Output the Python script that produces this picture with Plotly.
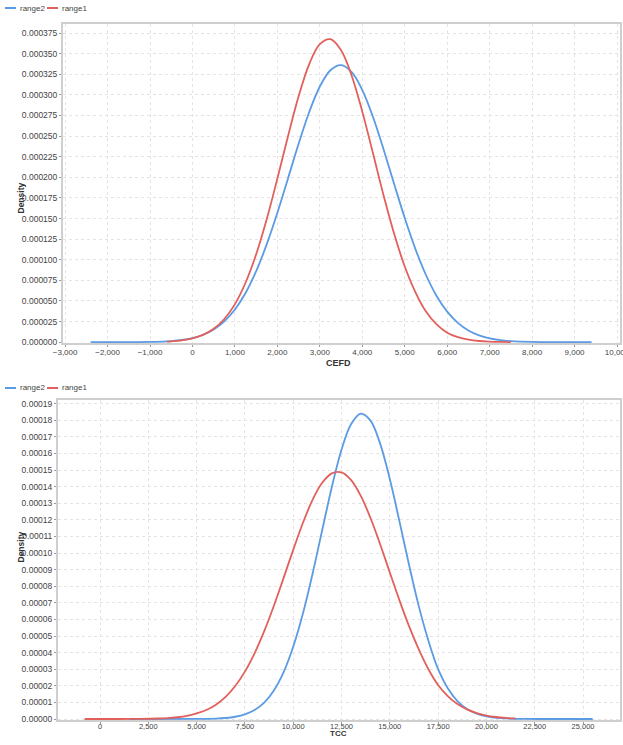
import plotly.graph_objects as go

# ---------------- data ----------------
cefd_r1_x = [-600, -500, -250, 0, 250, 500, 750, 1000, 1250, 1500, 1750, 2000, 2250, 2500, 2750,
             3000, 3250, 3500, 3750, 4000, 4250, 4500, 4750, 5000, 5250, 5500, 5750, 6000, 6250,
             6500, 6750, 7000, 7250, 7500]
cefd_r1_y = [0.7e-6, 1.04e-6, 2.24e-6, 4.57e-6, 8.83e-6, 1.617e-5, 2.81e-5, 4.62e-5, 7.21e-5,
             1.066e-4, 1.494e-4, 1.985e-4, 2.499e-4, 2.983e-4, 3.374e-4, 3.617e-4, 3.676e-4,
             3.541e-4, 3.233e-4, 2.797e-4, 2.294e-4, 1.783e-4, 1.314e-4, 9.18e-5, 6.08e-5,
             3.71e-5, 2.15e-5, 1.15e-5, 6.0e-6, 3.0e-6, 1.4e-6, 6.5e-7, 3.0e-7, 1.3e-7]

cefd_r2_x = [-2400, -2000, -1500, -1000, -500, -250, 0, 250, 500, 750, 1000, 1250, 1500, 1750,
             2000, 2250, 2500, 2750, 3000, 3250, 3500, 3750, 4000, 4250, 4500, 4750, 5000,
             5250, 5500, 5750, 6000, 6250, 6500, 6750, 7000, 7250, 7500, 8000, 8500, 9000, 9400]
cefd_r2_y = [0.0, 0.0, 6e-8, 3.2e-7, 1.37e-6, 2.68e-6, 5.0e-6, 8.97e-6, 1.54e-5, 2.53e-5,
             3.97e-5, 5.97e-5, 8.61e-5, 1.189e-4, 1.570e-4, 1.987e-4, 2.407e-4, 2.793e-4,
             3.102e-4, 3.299e-4, 3.360e-4, 3.276e-4, 3.059e-4, 2.735e-4, 2.341e-4, 1.919e-4,
             1.506e-4, 1.132e-4, 8.15e-5, 5.61e-5, 3.71e-5, 2.34e-5, 1.42e-5, 8.2e-6, 4.55e-6,
             2.42e-6, 1.23e-6, 2.8e-7, 5e-8, 0.0, 0.0]

tcc_r1_x = [-800, 1000, 2000, 3000, 3500, 4000, 4500, 5000, 5500, 6000, 6500, 7000, 7500, 8000,
            8500, 9000, 9500, 10000, 10500, 11000, 11500, 12000, 12500, 13000, 13500, 14000,
            14500, 15000, 15500, 16000, 16500, 17000, 17500, 18000, 18500, 19000, 19500, 20000,
            20500, 21000, 21500]
tcc_r1_y = [0.0, 1.6e-8, 7.4e-8, 3.0e-7, 5.8e-7, 1.06e-6, 1.9e-6, 3.4e-6, 5.4e-6, 8.64e-6,
            1.334e-5, 1.986e-5, 2.853e-5, 3.956e-5, 5.29e-5, 6.82e-5, 8.49e-5, 1.019e-4,
            1.181e-4, 1.320e-4, 1.423e-4, 1.480e-4, 1.486e-4, 1.439e-4, 1.344e-4, 1.211e-4,
            1.053e-4, 8.83e-5, 7.15e-5, 5.58e-5, 4.20e-5, 3.0e-5, 2.05e-5, 1.38e-5, 9.0e-6,
            5.8e-6, 3.6e-6, 2.1e-6, 1.2e-6, 6.5e-7, 3.3e-7]

tcc_r2_x = [1500, 5000, 6000, 6500, 7000, 7500, 8000, 8500, 9000, 9500, 10000, 10500, 11000,
            11500, 12000, 12500, 13000, 13500, 14000, 14500, 15000, 15500, 16000, 16500, 17000,
            17500, 18000, 18500, 19000, 19500, 20000, 20500, 21000, 22000, 23000, 24000, 25500]
tcc_r2_y = [0.0, 4.3e-8, 2.7e-7, 6.2e-7, 1.36e-6, 2.79e-6, 5.4e-6, 9.9e-6, 1.72e-5, 2.81e-5,
            4.35e-5, 6.34e-5, 8.74e-5, 1.137e-4, 1.398e-4, 1.622e-4, 1.777e-4, 1.840e-4,
            1.798e-4, 1.659e-4, 1.446e-4, 1.191e-4, 9.26e-5, 6.80e-5, 4.71e-5, 3.0e-5, 1.85e-5,
            1.08e-5, 6.0e-6, 3.2e-6, 1.57e-6, 7.3e-7, 3.2e-7, 5e-8, 0.0, 0.0, 0.0]

series_names = ["range2", "range1"]
x_titles = ["CEFD", "TCC"]
y_title = "Density"

BLUE = "#5b9be4"
RED = "#e2605b"
W, H = 623, 745
FONT = "Liberation Sans, Arial, sans-serif"

fig = go.Figure()
fig.add_trace(go.Scatter(x=cefd_r2_x, y=cefd_r2_y, mode="lines", name=series_names[0],
                         line=dict(color=BLUE, width=1.8, shape="spline"), xaxis="x", yaxis="y",
                         showlegend=False))
fig.add_trace(go.Scatter(x=cefd_r1_x, y=cefd_r1_y, mode="lines", name=series_names[1],
                         line=dict(color=RED, width=1.8, shape="spline"), xaxis="x", yaxis="y",
                         showlegend=False))
fig.add_trace(go.Scatter(x=tcc_r2_x, y=tcc_r2_y, mode="lines", name=series_names[0],
                         line=dict(color=BLUE, width=1.8, shape="spline"), xaxis="x2", yaxis="y2",
                         showlegend=False))
fig.add_trace(go.Scatter(x=tcc_r1_x, y=tcc_r1_y, mode="lines", name=series_names[1],
                         line=dict(color=RED, width=1.8, shape="spline"), xaxis="x2", yaxis="y2",
                         showlegend=False))

def px_x(p):
    return p / W

def px_y(p):
    return 1 - p / H

axis_common = dict(showgrid=True, gridcolor="#e4e4e4", griddash="dot", gridwidth=1,
                   showline=True, linecolor="#cfcfcf", linewidth=2, mirror=True,
                   ticks="outside", ticklen=2, tickcolor="#999999", zeroline=False,
                   tickfont=dict(family=FONT, size=8.5, color="#444444"), automargin=False)
xtickfont = dict(family=FONT, size=8, color="#444444")
x2tickfont = dict(family=FONT, size=7.5, color="#444444")

fig.update_layout(
    width=W, height=H,
    margin=dict(l=0, r=0, t=0, b=0),
    paper_bgcolor="white", plot_bgcolor="white",
    font=dict(family=FONT, size=9, color="#333333"),
    xaxis=dict(domain=[px_x(63), px_x(620)], range=[-3050, 10070], dtick=1000,
               tickformat=",d", anchor="y", ticklabeloverflow="allow", ticklabelstandoff=-2,
               **{**axis_common, "tickfont": xtickfont}),
    yaxis=dict(domain=[px_y(343), px_y(24)], range=[-0.000001, 0.000386], dtick=0.000025,
               tickformat=".6f", anchor="x", ticklabelstandoff=0, **axis_common),
    xaxis2=dict(domain=[px_x(58), px_x(620)], range=[-2174, 26915], dtick=2500,
                tickformat=",d", anchor="y2", ticklabeloverflow="allow", ticklabelstandoff=-4,
                **{**axis_common, "tickfont": x2tickfont}),
    yaxis2=dict(domain=[px_y(720), px_y(400)], range=[-0.0000006, 0.0001922], dtick=0.00001,
                tickformat=".5f", anchor="x2", ticklabelstandoff=0, **axis_common),
)

annotations = []
shapes = []
# axis titles
annotations.append(dict(text="<b>%s</b>" % x_titles[0], x=px_x(338), y=px_y(363), xref="paper",
                        yref="paper", showarrow=False, font=dict(family=FONT, size=9, color="#333")))
annotations.append(dict(text="<b>%s</b>" % x_titles[1], x=px_x(338), y=px_y(740), xref="paper",
                        yref="paper", showarrow=False, font=dict(family=FONT, size=8, color="#333")))
annotations.append(dict(text="<b>%s</b>" % y_title, x=px_x(14), y=px_y(181), xref="paper",
                        yref="paper", showarrow=False, textangle=-90,
                        font=dict(family=FONT, size=8.5, color="#333")))
annotations.append(dict(text="<b>%s</b>" % y_title, x=px_x(13), y=px_y(565), xref="paper",
                        yref="paper", showarrow=False, textangle=-90,
                        font=dict(family=FONT, size=8.5, color="#333")))

# legends (one per chart)
for ly in (8, 388):
    for i, (name, col) in enumerate(zip(series_names, [BLUE, RED])):
        x0 = 5 + i * 42
        shapes.append(dict(type="line", xref="paper", yref="paper", x0=px_x(x0), x1=px_x(x0 + 11),
                           y0=px_y(ly), y1=px_y(ly), line=dict(color=col, width=2)))
        annotations.append(dict(text=name, x=px_x(x0 + 13), y=px_y(ly), xref="paper",
                                yref="paper", xanchor="left", yanchor="middle", showarrow=False,
                                font=dict(family=FONT, size=8, color="#444")))

fig.update_layout(annotations=annotations, shapes=shapes)
fig.write_html("out.html", config={"displayModeBar": False},
               post_script="document.body.style.margin='0';")
